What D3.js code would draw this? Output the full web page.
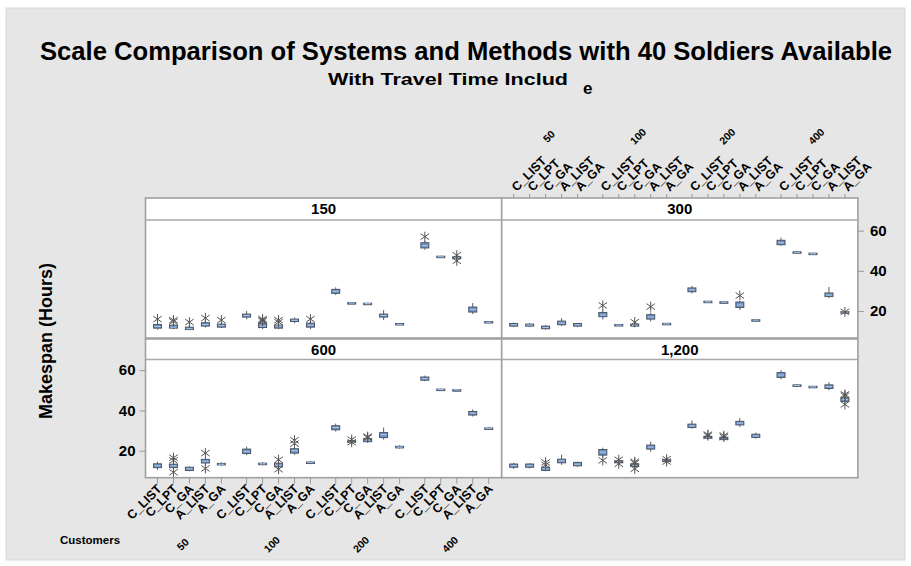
<!DOCTYPE html>
<html><head><meta charset="utf-8">
<script src="https://cdn.jsdelivr.net/npm/d3@7"></script>
<style>
body{margin:0;background:#fff}
svg{display:block}
text{font-family:"Liberation Sans",Arial,Helvetica,sans-serif;font-weight:bold;fill:#000}
</style>
</head><body>
<svg id="c" width="911" height="566"></svg>
<script>
const customers = ["50","100","200","400"];
const methods = ["C_LIST","C_LPT","C_GA","A_LIST","A_GA"];
const panelNames = ["150","300","600","1,200"];
const yTicks = [20,40,60];
// each row: [low whisker, Q1, median, Q3, high whisker], order = customers x methods
const box150 = [
[10.8,11.5,12.3,13.3,14.0],[11.0,11.5,12.0,13.0,14.0],[10.5,10.8,11.2,12.0,13.0],[11.8,12.5,13.3,14.2,15.5],[11.5,12.0,12.8,13.5,14.5],
[16.0,17.0,17.8,18.5,20.0],[11.0,11.8,12.5,14.0,14.5],[11.0,11.5,12.5,13.0,14.0],[14.0,14.8,15.4,16.0,16.8],[11.0,12.0,13.0,14.0,15.0],
[28.0,28.8,29.8,30.8,31.8],[23.6,23.7,24.0,24.2,24.4],[23.4,23.5,23.7,23.9,24.0],[15.5,17.0,17.8,18.5,20.5],[13.0,13.1,13.4,13.8,14.0],
[50.5,51.4,52.5,54.0,55.0],[46.5,46.7,47.0,47.3,47.5],[45.5,46.0,46.5,47.0,47.5],[18.5,19.5,20.8,22.0,24.0],[14.0,14.2,14.5,14.8,15.0]];
const out150 = [[16.0],[15.5,14.8],[14.5],[16.5],[15.5],[],[16.0,15.5,15.0],[14.5,15.5],[],[16.0],[],[],[],[],[],[57.0],[],[45.0,47.8],[],[]];
const box300 = [
[12.0,12.5,13.2,13.8,14.3],[12.0,12.5,13.0,13.5,14.0],[10.8,11.2,11.8,12.5,13.0],[12.5,13.2,14.0,15.0,16.5],[12.0,12.5,13.2,13.8,14.0],
[15.8,17.2,18.0,19.3,20.5],[12.7,12.8,13.0,13.3,13.4],[12.0,12.5,13.0,13.5,14.0],[14.8,16.0,17.0,18.2,19.3],[13.1,13.3,13.6,13.9,14.1],
[28.8,29.6,30.6,31.5,32.5],[24.2,24.4,24.6,24.9,25.0],[24.1,24.2,24.4,24.6,24.7],[20.5,21.8,23.0,24.5,25.0],[15.2,15.3,15.5,15.7,15.8],
[52.5,53.0,54.0,55.2,56.5],[48.8,49.0,49.2,49.5,49.6],[48.0,48.2,48.5,48.8,49.0],[26.5,27.2,28.0,29.0,32.0],[19.2,19.3,19.5,19.7,19.8]];
const out300 = [[],[],[],[],[],[22.8],[],[14.5],[22.2],[],[],[],[],[27.7],[],[],[],[],[],[19.6]];
const box600 = [
[10.5,11.6,12.5,13.5,14.5],[10.8,11.6,12.5,13.3,14.3],[9.8,10.2,11.0,11.8,12.2],[12.5,13.9,14.8,15.7,16.5],[12.5,13.0,13.3,13.7,14.2],
[17.8,18.6,19.5,20.8,22.0],[12.8,13.2,13.5,13.8,14.3],[11.5,12.0,12.8,13.8,14.5],[18.0,18.8,20.0,21.0,22.0],[13.3,13.8,14.1,14.4,14.8],
[29.5,30.4,31.5,32.4,33.5],[24.0,24.3,24.6,25.0,25.3],[24.0,24.5,25.3,26.0,26.5],[25.5,26.5,28.0,29.0,31.5],[21.0,21.4,21.8,22.2,22.7],
[54.5,55.0,55.8,56.6,57.3],[50.0,50.2,50.4,50.6,50.8],[50.0,50.1,50.2,50.3,50.4],[37.0,37.7,38.7,39.5,40.5],[30.4,30.7,31.0,31.3,31.6]];
const out600 = [[],[16.5,15.2,9.3],[],[18.8,11.2],[],[],[],[15.5,10.8],[25.2,23.5],[],[],[25.5,24.2],[27.0,26.5],[],[],[],[],[],[],[]];
const box1200 = [
[11.0,11.8,12.6,13.4,14.0],[11.2,11.8,12.6,13.4,13.8],[9.8,10.2,11.0,11.8,12.3],[13.0,14.0,15.0,15.8,18.0],[12.0,12.5,13.3,14.2,14.5],
[17.0,17.8,19.3,20.6,21.5],[13.8,14.0,14.5,15.0,15.2],[12.0,12.2,12.8,13.5,14.0],[19.5,20.8,21.8,22.8,24.5],[14.5,14.7,15.1,15.5,15.7],
[31.0,31.5,32.3,33.2,35.0],[26.0,26.2,26.7,27.2,27.5],[25.3,25.5,26.0,26.7,27.0],[31.8,32.8,33.7,34.6,36.3],[26.0,26.6,27.3,28.2,29.0],
[55.5,56.4,57.6,58.8,60.0],[51.8,52.1,52.4,52.7,53.0],[51.3,51.4,51.7,52.0,52.1],[50.0,50.9,51.8,52.7,54.0],[43.5,44.5,45.5,46.3,46.8]];
const out1200 = [[],[],[14.2,13.0],[],[],[15.2],[15.5,13.5],[14.5,11.0,13.8],[],[15.8,14.6],[],[28.0,27.5],[27.5,26.8],[],[],[],[],[],[],[48.0,47.3,43.0]];

const panelBoxes = [box150, box300, box600, box1200];
const panelOuts = [out150, out300, out600, out1200];

const svg = d3.select("#c");
svg.append("rect").attr("x",6).attr("y",8).attr("width",899).attr("height",552)
  .attr("fill","#e6e6e6").attr("stroke","#d8d8d8");

// titles
svg.append("text").attr("x",466).attr("y",60).attr("text-anchor","middle")
  .attr("font-size",26).attr("textLength",852).attr("lengthAdjust","spacingAndGlyphs")
  .text("Scale Comparison of Systems and Methods with 40 Soldiers Available");
svg.append("text").attr("x",328).attr("y",85).attr("font-size",17)
  .attr("textLength",240).attr("lengthAdjust","spacingAndGlyphs").text("With Travel Time Includ");
svg.append("text").attr("x",583).attr("y",94).attr("font-size",17).text("e");

svg.append("text").attr("transform","translate(52,341) rotate(-90)").attr("text-anchor","middle")
  .attr("font-size",18).text("Makespan (Hours)");

const colX = [145.5, 501.7, 858.3];
const rows = [{strip:198, top:220, bot:338},{strip:339, top:359.5, bot:477.7}];
const W = colX[1]-colX[0];

const outer = d3.scaleBand().domain(customers).range([4, W-5]).paddingInner(0.104);
const inner = d3.scaleBand().domain(methods).range([0, outer.bandwidth()]);
const cx = (c,m) => outer(c) + inner(m) + inner.bandwidth()/2;
const bw = 8;

const starPath = r => `M0,${-r}L0,${r}M${-r*0.85},${-r*0.6}L${r*0.85},${r*0.6}M${-r*0.85},${r*0.6}L${r*0.85},${-r*0.6}`;

panelNames.forEach((name, pi) => {
  const row = rows[Math.floor(pi/2)], col = pi%2;
  const g = svg.append("g").attr("transform",`translate(${colX[col]},0)`);
  const y = d3.scaleLinear().domain([6.6,65.3]).range([row.bot,row.top]);
  g.append("rect").attr("x",0).attr("y",row.strip).attr("width",W).attr("height",row.bot-row.strip)
    .attr("fill","#fff");
  g.append("text").attr("x",W/2).attr("y",(row.strip+row.top)/2).attr("dy","0.36em")
    .attr("text-anchor","middle").attr("font-size",15).text(name);

  const items = [];
  customers.forEach((c,ci)=>methods.forEach((m,mi)=>{
    items.push({c,m,s:panelBoxes[pi][ci*5+mi],o:panelOuts[pi][ci*5+mi]});
  }));
  const it = g.append("g").selectAll("g").data(items).join("g")
    .attr("transform",d=>`translate(${cx(d.c,d.m)},0)`);
  it.append("line").attr("y1",d=>y(d.s[0])).attr("y2",d=>y(d.s[4]))
    .attr("stroke","#5a5a5a").attr("stroke-width",1);
  it.append("rect").attr("x",-bw/2).attr("width",bw)
    .attr("y",d=>y(d.s[3])).attr("height",d=>Math.max(1.5,y(d.s[1])-y(d.s[3])))
    .attr("fill","#7092c2").attr("stroke","#4c5566").attr("stroke-width",1);
  it.append("line").attr("x1",-bw/2+1).attr("x2",bw/2-1).attr("y1",d=>y(d.s[2])).attr("y2",d=>y(d.s[2]))
    .attr("stroke","#a9c9f0").attr("stroke-width",1);
  it.selectAll("path").data(d=>d.o).join("path")
    .attr("transform",v=>`translate(0,${y(v)})`).attr("d",starPath(5))
    .attr("fill","none").attr("stroke","#555").attr("stroke-width",1);

  // frame
  g.append("rect").attr("x",0).attr("y",row.strip).attr("width",W).attr("height",row.bot-row.strip)
    .attr("fill","none").attr("stroke","#a0a0a0").attr("stroke-width",1.6);
  g.append("line").attr("x1",0).attr("x2",W).attr("y1",row.top).attr("y2",row.top)
    .attr("stroke","#a8a8a8").attr("stroke-width",1.3);

  const tickData = [];
  customers.forEach(c=>methods.forEach(m=>tickData.push({c,m})));
  if (pi===2) {
    const ya = g.append("g").call(d3.axisLeft(y).tickValues(yTicks).tickSize(6).tickPadding(4));
    ya.select(".domain").remove();
    ya.selectAll("line").attr("stroke","#999");
    ya.selectAll("text").attr("font-size",15).attr("font-family","Liberation Sans, Arial, sans-serif").attr("font-weight","bold").attr("fill","#000");
    g.selectAll(".bt").data(tickData).join("line").attr("class","bt")
      .attr("x1",d=>cx(d.c,d.m)).attr("x2",d=>cx(d.c,d.m)).attr("y1",row.bot).attr("y2",row.bot+6)
      .attr("stroke","#999");
    g.selectAll(".bl").data(tickData).join("text").attr("class","bl")
      .attr("transform",d=>`translate(${cx(d.c,d.m)+5},${row.bot+12}) rotate(-45)`)
      .attr("text-anchor","end").attr("font-size",12.5).text(d=>d.m);
    g.selectAll(".bg").data(customers).join("text").attr("class","bg")
      .attr("transform",c=>`translate(${outer(c)+outer.bandwidth()/2-4},${547}) rotate(-45)`)
      .attr("text-anchor","middle").attr("font-size",10.5).text(c=>c);
  }
  if (pi===1) {
    const ya = g.append("g").attr("transform",`translate(${W},0)`)
      .call(d3.axisRight(y).tickValues(yTicks).tickSize(6).tickPadding(6));
    ya.select(".domain").remove();
    ya.selectAll("line").attr("stroke","#999");
    ya.selectAll("text").attr("font-size",15).attr("font-family","Liberation Sans, Arial, sans-serif").attr("font-weight","bold").attr("fill","#000");
    g.selectAll(".tt").data(tickData).join("line").attr("class","tt")
      .attr("x1",d=>cx(d.c,d.m)).attr("x2",d=>cx(d.c,d.m)).attr("y1",row.strip).attr("y2",row.strip-4)
      .attr("stroke","#999");
    g.selectAll(".tl").data(tickData).join("text").attr("class","tl")
      .attr("transform",d=>`translate(${cx(d.c,d.m)+3},${row.strip-6}) rotate(-45)`)
      .attr("text-anchor","start").attr("font-size",12.5).text(d=>d.m);
    g.selectAll(".tg").data(customers).join("text").attr("class","tg")
      .attr("transform",c=>`translate(${outer(c)+outer.bandwidth()/2+6},${139}) rotate(-45)`)
      .attr("text-anchor","middle").attr("font-size",10.5).text(c=>c);
  }
});

svg.append("text").attr("x",90).attr("y",544).attr("text-anchor","middle").attr("font-size",11.5).text("Customers");
</script>
</body></html>
